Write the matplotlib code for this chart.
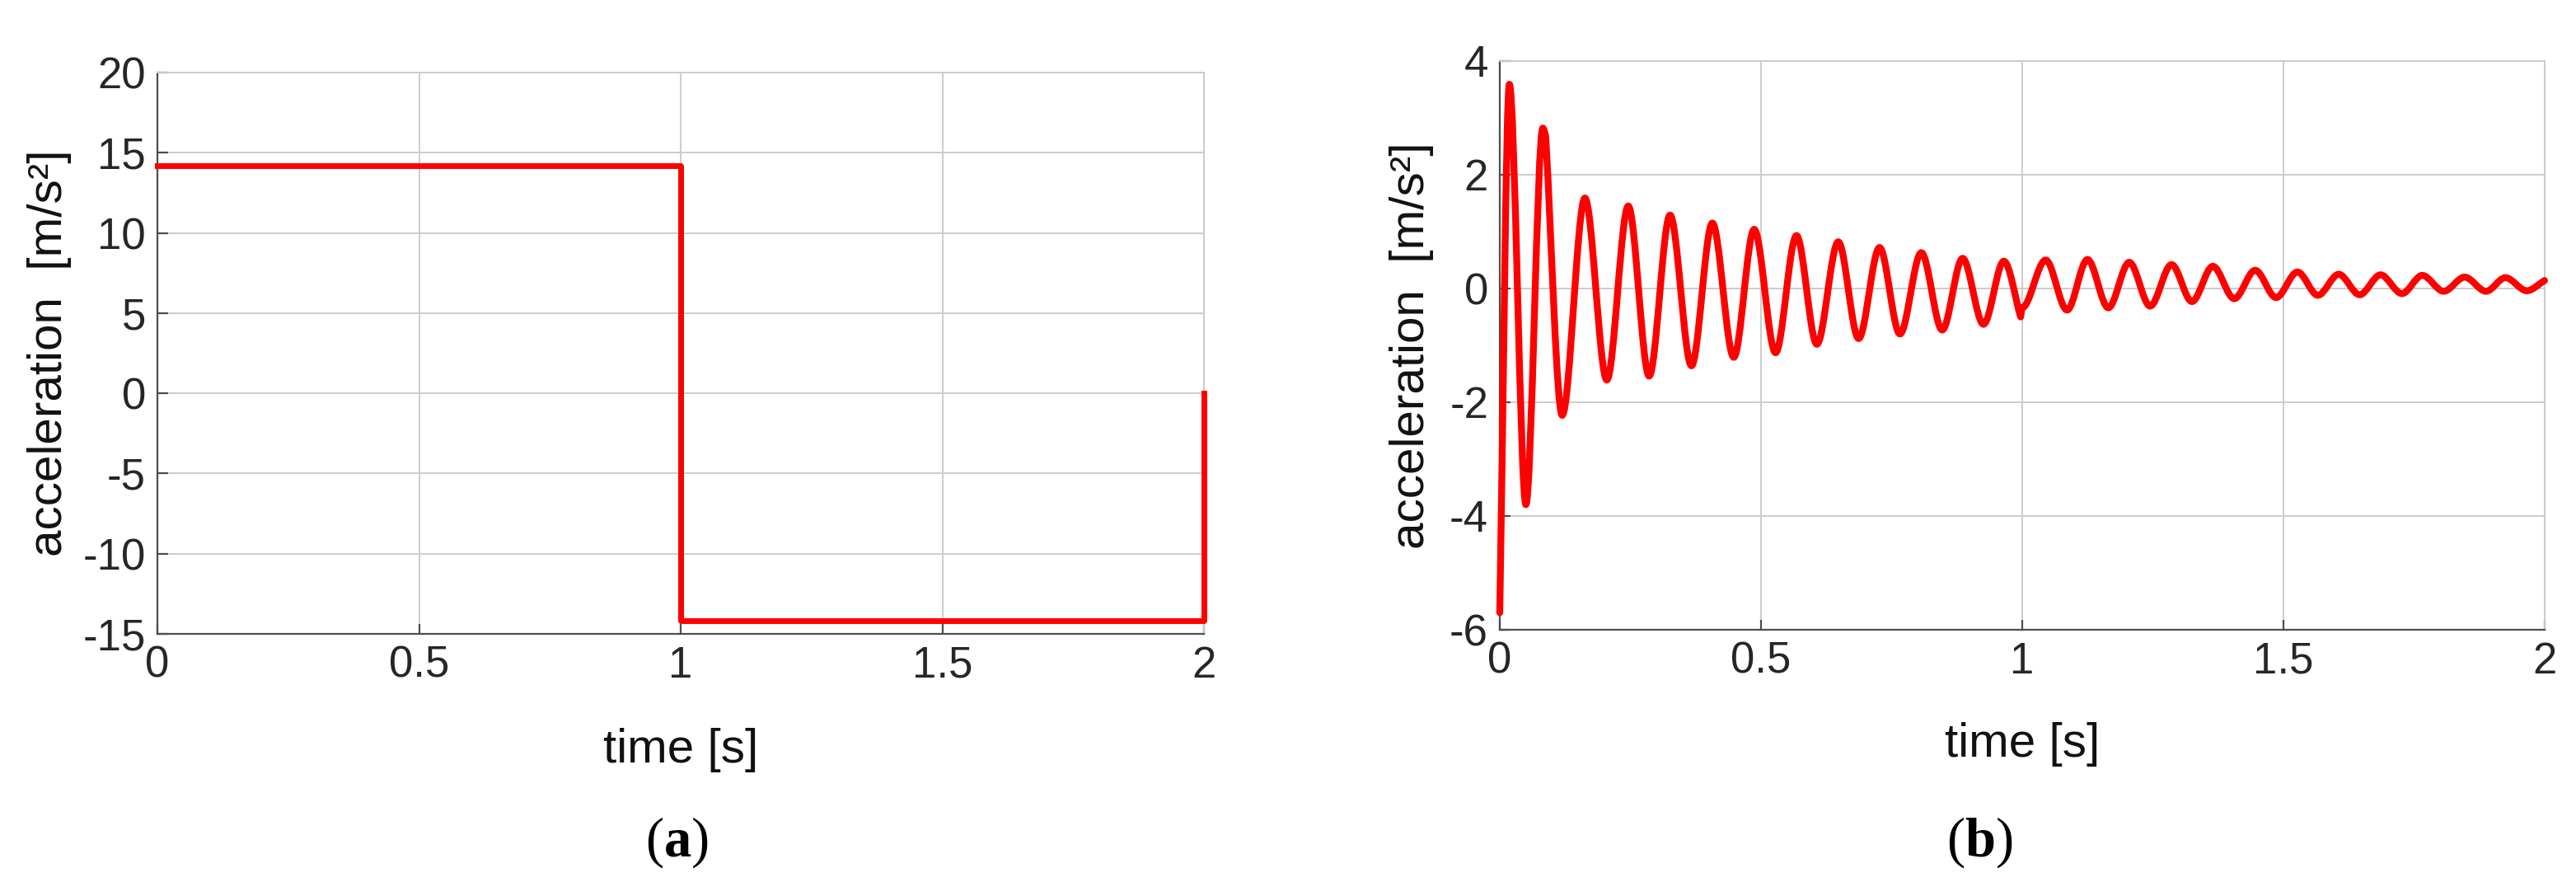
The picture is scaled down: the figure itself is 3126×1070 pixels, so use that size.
import matplotlib
matplotlib.use("Agg")
import matplotlib.pyplot as plt
from matplotlib.path import Path
from matplotlib.patches import PathPatch
from matplotlib.ticker import StrMethodFormatter

plt.rcParams['font.family'] = ['Liberation Sans', 'DejaVu Sans']
plt.rcParams['axes.unicode_minus'] = False
plt.rcParams['mathtext.fontset'] = 'custom'
plt.rcParams['mathtext.rm'] = 'Liberation Serif'
plt.rcParams['mathtext.bf'] = 'Liberation Serif:bold'

# (a) commanded acceleration: step profile
step_t = [0.0, 1.0, 1.0, 2.0, 2.0]
step_acc = [14.2, 14.2, -14.2, -14.2, 0.0]

# (b) response: peaks / troughs of the oscillation
resp_t = [0.0, 0.0184, 0.050, 0.0825, 0.0875, 0.0885, 0.1195, 0.163, 0.205, 0.246,
          0.286, 0.326, 0.367, 0.407, 0.448, 0.487, 0.528, 0.568, 0.607, 0.648,
          0.687, 0.727, 0.766, 0.807, 0.847, 0.886, 0.926, 0.965, 0.997, 1.000,
          1.045, 1.086, 1.125, 1.165, 1.205, 1.245, 1.286, 1.325, 1.365, 1.406,
          1.446, 1.486, 1.527, 1.566, 1.606, 1.646, 1.686, 1.727, 1.766, 1.807,
          1.847, 1.888, 1.925, 1.966, 2.0]
resp_acc = [-5.7, 3.59, -3.80, 2.82, 2.70, 2.58, -2.23, 1.59, -1.61, 1.45,
            -1.54, 1.29, -1.36, 1.15, -1.21, 1.04, -1.13, 0.93, -0.98, 0.82,
            -0.88, 0.72, -0.80, 0.63, -0.73, 0.53, -0.63, 0.48, -0.50, -0.34,
            0.50, -0.38, 0.51, -0.34, 0.46, -0.31, 0.42, -0.23, 0.39, -0.18,
            0.32, -0.16, 0.29, -0.12, 0.25, -0.11, 0.24, -0.09, 0.23, -0.05,
            0.20, -0.05, 0.19, -0.04, 0.14]
# points where the trace is not at a turning point (start, kinks, end)
kink_t = [0.0, 0.0875, 0.0885, 0.997, 2.0]

time_ticks = [0, 0.5, 1, 1.5, 2]
left_yticks = [-15, -10, -5, 0, 5, 10, 15, 20]
right_yticks = [-6, -4, -2, 0, 2, 4]

RED = '#ff0000'
GRID = '#cccccc'
AXIS = '#4d4d4d'


def trace_path(t, y, kinks):
    # cubic bezier between turning points, flat tangent at each peak/trough
    verts = [(t[0], y[0])]
    codes = [Path.MOVETO]
    for i in range(len(t) - 1):
        t0, y0, t1, y1 = t[i], y[i], t[i + 1], y[i + 1]
        dt, dy = t1 - t0, y1 - y0
        c1 = (t0 + dt / 3, y0 + (dy / 3 if t0 in kinks else 0))
        c2 = (t1 - dt / 3, y1 - (dy / 3 if t1 in kinks else 0))
        verts += [c1, c2, (t1, y1)]
        codes += [Path.CURVE4] * 3
    return Path(verts, codes)


def style(ax, yticks):
    ax.set_xlim(0, 2)
    ax.set_ylim(yticks[0], yticks[-1])
    ax.set_xticks(time_ticks)
    ax.set_yticks(yticks)
    ax.xaxis.set_major_formatter(StrMethodFormatter('{x:g}'))
    ax.yaxis.set_major_formatter(StrMethodFormatter('{x:g}'))
    ax.grid(True, color=GRID, lw=1.4)
    ax.set_axisbelow(True)
    for s in ['top', 'right']:
        ax.spines[s].set_color(GRID)
        ax.spines[s].set_linewidth(1.4)
    for s in ['left', 'bottom']:
        ax.spines[s].set_color(AXIS)
        ax.spines[s].set_linewidth(1.6)
    ax.tick_params(direction='in', length=9, width=1.6, colors=AXIS,
                   labelcolor='#262626', labelsize=38, pad=10)
    ax.set_xlabel('time [s]', fontsize=42, color='#111111')
    ax.set_ylabel('acceleration  [m/s²]', fontsize=42, color='#111111')


fig = plt.figure(figsize=(31.26, 10.70), dpi=100)
ax1 = fig.add_axes([0.0611, 0.2813, 0.4063, 0.6364])
ax2 = fig.add_axes([0.5822, 0.2860, 0.4056, 0.6449])

ax1.plot(step_t, step_acc, color=RED, lw=5, clip_on=False, zorder=3)
style(ax1, left_yticks)
ax1.xaxis.set_label_coords(0.5, -0.168)
ax1.yaxis.set_label_coords(-0.082, 0.5)

ax2.add_patch(PathPatch(trace_path(resp_t, resp_acc, kink_t), fill=False,
                        edgecolor=RED, lw=6, joinstyle='round', capstyle='round',
                        clip_on=False, zorder=3))
style(ax2, right_yticks)
ax2.xaxis.set_label_coords(0.5, -0.163)
ax2.yaxis.set_label_coords(-0.063, 0.5)

fig.text(0.2626, 0.045, r'$\mathrm{(}\mathbf{a}\mathrm{)}$', fontsize=48,
         ha='center', va='center')
fig.text(0.7684, 0.045, r'$\mathrm{(}\mathbf{b}\mathrm{)}$', fontsize=48,
         ha='center', va='center')

fig.savefig('out.png', dpi=100, facecolor='white')
